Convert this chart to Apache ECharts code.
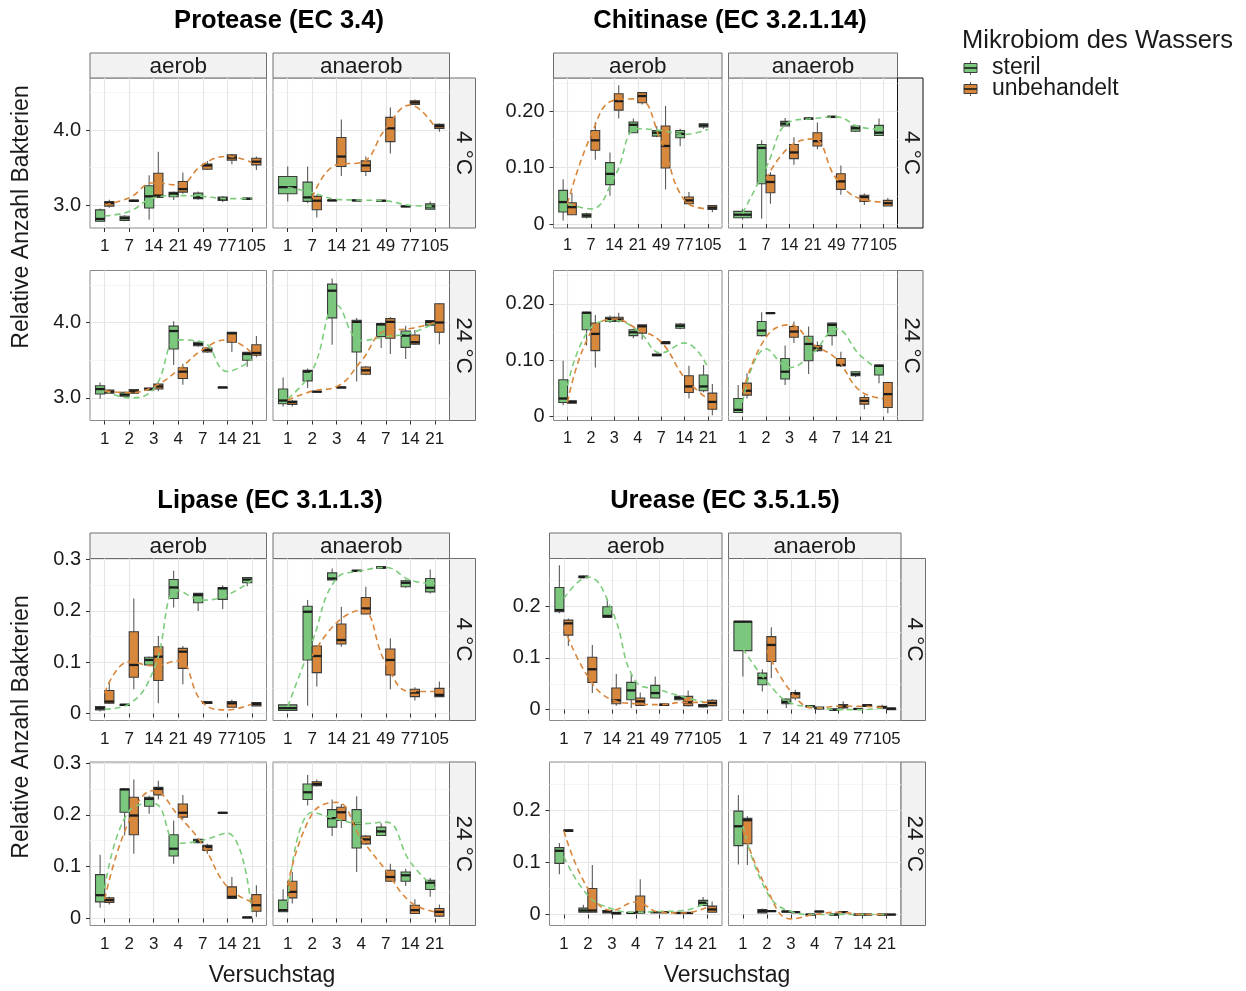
<!DOCTYPE html>
<html>
<head>
<meta charset="utf-8">
<script src="https://cdn.jsdelivr.net/npm/echarts@6/dist/echarts.min.js"></script>
<style>
  html, body { margin: 0; padding: 0; background: #fff; }
  #chart { width: 1246px; height: 991px; }
</style>
</head>
<body>
<div id="chart"></div>
<script>
// ---- Sampling days (tick labels) ----
const days4C = ['1', '7', '14', '21', '49', '77', '105'];
const days24C = ['1', '2', '3', '4', '7', '14', '21'];
const groups = ['steril', 'unbehandelt'];

// ---- Box statistics per day: [min, q1, median, q3, max]; null = no samples ----
// Protease (EC 3.4)
const prAe4St = [[2.78, 2.79, 2.82, 2.94, 2.96], [2.79, 2.80, 2.83, 2.855, 2.87], [2.81, 2.965, 3.12, 3.26, 3.40], [3.07, 3.114, 3.154, 3.172, 3.185], [3.075, 3.088, 3.106, 3.163, 3.185], [3.044, 3.066, 3.088, 3.11, 3.123], [3.08, 3.085, 3.088, 3.095, 3.10]];
const prAe4Un = [[2.97, 2.99, 3.03, 3.05, 3.075], [3.05, 3.055, 3.06, 3.07, 3.075], [3.10, 3.106, 3.13, 3.427, 3.71], [3.154, 3.176, 3.216, 3.317, 3.436], [3.47, 3.48, 3.53, 3.55, 3.59], [3.546, 3.60, 3.634, 3.67, 3.683], [3.47, 3.537, 3.58, 3.625, 3.65]];
const prAn4St = [[3.053, 3.154, 3.242, 3.383, 3.515], [3.03, 3.053, 3.106, 3.308, 3.515], [3.06, 3.063, 3.066, 3.07, 3.073], [3.06, 3.063, 3.066, 3.07, 3.073], [3.055, 3.058, 3.062, 3.066, 3.07], [2.98, 2.983, 2.987, 2.99, 2.995], [2.943, 2.95, 2.987, 3.02, 3.053]];
const prAn4Un = [null, [2.84, 2.943, 3.062, 3.119, 3.14], [3.39, 3.515, 3.648, 3.90, 4.14], [3.39, 3.45, 3.53, 3.59, 3.648], [3.69, 3.846, 4.022, 4.167, 4.30], [4.33, 4.34, 4.366, 4.388, 4.405], [3.978, 4.022, 4.053, 4.075, 4.088]];
const prAe24St = [[2.987, 3.052, 3.117, 3.161, 3.204], [3.009, 3.022, 3.043, 3.074, 3.083], [3.10, 3.104, 3.117, 3.13, 3.135], [3.435, 3.648, 3.887, 3.952, 4.017], [3.68, 3.691, 3.713, 3.739, 3.745], [3.135, 3.137, 3.139, 3.141, 3.143], [3.413, 3.50, 3.583, 3.604, 3.609]];
const prAe24Un = [[3.06, 3.061, 3.083, 3.104, 3.11], [3.052, 3.061, 3.087, 3.109, 3.117], [3.087, 3.117, 3.152, 3.183, 3.20], [3.174, 3.257, 3.348, 3.40, 3.452], [3.60, 3.609, 3.635, 3.661, 3.67], [3.609, 3.739, 3.857, 3.87, 3.878], [3.539, 3.565, 3.596, 3.704, 3.822]];
const prAn24St = [[2.887, 2.922, 2.965, 3.117, 3.27], [3.13, 3.226, 3.348, 3.365, 3.39], [3.704, 4.061, 4.422, 4.509, 4.583], [3.217, 3.609, 4.009, 4.03, 4.061], [3.661, 3.813, 3.974, 3.987, 4.0], [3.517, 3.67, 3.826, 3.887, 3.957], [3.96, 3.965, 4.009, 4.026, 4.03]];
const prAn24Un = [[2.887, 2.913, 2.943, 2.957, 2.975], [3.079, 3.081, 3.083, 3.085, 3.087], [3.135, 3.137, 3.139, 3.141, 3.143], [3.30, 3.313, 3.365, 3.409, 3.422], [3.583, 3.791, 4.009, 4.052, 4.074], [3.70, 3.713, 3.739, 3.835, 3.90], [3.713, 3.87, 4.0, 4.248, 4.257]];
// Chitinase (EC 3.2.1.14)
const chAe4St = [[0.0065, 0.0213, 0.039, 0.0598, 0.0793], [0.010, 0.012, 0.015, 0.018, 0.020], [0.050, 0.070, 0.089, 0.109, 0.127], [0.162, 0.162, 0.176, 0.181, 0.187], [0.154, 0.156, 0.162, 0.166, 0.174], [0.138, 0.153, 0.160, 0.166, 0.169], [0.169, 0.172, 0.175, 0.178, 0.179]];
const chAe4Un = [[0.0166, 0.0166, 0.030, 0.0379, 0.0556], [0.114, 0.131, 0.1485, 0.166, 0.181], [0.187, 0.202, 0.218, 0.231, 0.246], [0.212, 0.215, 0.227, 0.233, 0.234], [0.0615, 0.0994, 0.1385, 0.174, 0.2095], [0.036, 0.036, 0.042, 0.048, 0.057], [0.021, 0.026, 0.029, 0.033, 0.034]];
const chAn4St = [[0.008, 0.0112, 0.0166, 0.0225, 0.027], [0.0095, 0.0716, 0.135, 0.141, 0.1485], [0.174, 0.174, 0.178, 0.182, 0.188], [0.185, 0.186, 0.187, 0.188, 0.189], [0.188, 0.189, 0.190, 0.191, 0.192], [0.163, 0.1645, 0.170, 0.174, 0.175], [0.157, 0.157, 0.162, 0.175, 0.187]];
const chAn4Un = [null, [0.036, 0.0556, 0.0746, 0.0864, 0.092], [0.105, 0.116, 0.127, 0.141, 0.154], [0.1325, 0.1385, 0.147, 0.162, 0.18], [0.052, 0.0615, 0.0757, 0.0893, 0.104], [0.034, 0.040, 0.048, 0.051, 0.054], [0.032, 0.032, 0.037, 0.042, 0.046]];
const chAe24St = [[0.020, 0.0249, 0.032, 0.0653, 0.099], [0.126, 0.154, 0.184, 0.185, 0.186], [0.166, 0.1685, 0.173, 0.176, 0.179], [0.139, 0.1436, 0.1495, 0.154, 0.156], [0.107, 0.108, 0.109, 0.111, 0.112], [0.155, 0.1567, 0.161, 0.164, 0.166], [0.043, 0.0457, 0.0534, 0.0736, 0.0914]];
const chAe24Un = [[0.0237, 0.0237, 0.026, 0.0279, 0.0285], [0.087, 0.117, 0.1466, 0.166, 0.180], [0.167, 0.1685, 0.172, 0.176, 0.184], [0.1365, 0.148, 0.160, 0.1626, 0.163], [0.128, 0.129, 0.1306, 0.133, 0.134], [0.032, 0.0427, 0.0534, 0.0724, 0.090], [0.0024, 0.013, 0.026, 0.0415, 0.0576]];
const chAn24St = [[0.0071, 0.0071, 0.0119, 0.032, 0.0558], [0.142, 0.1436, 0.1525, 0.1685, 0.185], [0.0558, 0.0665, 0.0795, 0.103, 0.1258], [0.0754, 0.099, 0.1288, 0.1424, 0.1596], [0.1258, 0.1436, 0.1626, 0.1656, 0.167], [0.070, 0.0724, 0.075, 0.0795, 0.080], [0.059, 0.0736, 0.090, 0.0914, 0.092]];
const chAn24Un = [[0.032, 0.038, 0.0457, 0.0593, 0.077], [0.182, 0.1828, 0.1834, 0.184, 0.1846], [0.1306, 0.1407, 0.1507, 0.1596, 0.1685], [0.115, 0.117, 0.121, 0.1258, 0.133], [0.088, 0.090, 0.0914, 0.103, 0.115], [0.013, 0.022, 0.0279, 0.0338, 0.038], [0.006, 0.016, 0.0398, 0.0605, 0.0617]];
// Lipase (EC 3.1.1.3)
const liAe4St = [[0.004, 0.0071, 0.0104, 0.0136, 0.015], [0.015, 0.0155, 0.0169, 0.018, 0.019], [0.0946, 0.0946, 0.1043, 0.1095, 0.111], [0.2067, 0.2242, 0.2456, 0.261, 0.278], [0.1996, 0.2158, 0.2307, 0.234, 0.235], [0.2035, 0.2223, 0.2437, 0.2456, 0.250], [0.248, 0.2547, 0.261, 0.265, 0.266]];
const liAe4Un = [[0.019, 0.020, 0.0233, 0.0447, 0.0622], [0.0473, 0.0706, 0.0946, 0.1594, 0.224], [0.020, 0.0642, 0.1108, 0.130, 0.151], [0.057, 0.088, 0.1205, 0.127, 0.1316], [0.019, 0.0195, 0.0214, 0.023, 0.0235], [0.0123, 0.0123, 0.020, 0.0233, 0.0266], [0.0149, 0.0149, 0.0188, 0.0214, 0.022]];
const liAn4St = [[0.0058, 0.0058, 0.0104, 0.0169, 0.0169], [0.0149, 0.1043, 0.1983, 0.209, 0.221], [0.260, 0.260, 0.263, 0.274, 0.2826], [0.276, 0.277, 0.278, 0.279, 0.280], [0.2825, 0.283, 0.2845, 0.286, 0.287], [0.245, 0.247, 0.2547, 0.2586, 0.261], [0.234, 0.237, 0.245, 0.263, 0.2806]];
const liAn4Un = [null, [0.0525, 0.0797, 0.112, 0.1316, 0.133], [0.130, 0.1354, 0.1432, 0.1743, 0.208], [0.1938, 0.1938, 0.2048, 0.226, 0.247], [0.0473, 0.0752, 0.1043, 0.1257, 0.1465], [0.0253, 0.033, 0.0408, 0.0473, 0.051], [0.033, 0.033, 0.0363, 0.049, 0.0622]];
const liAe24St = [[0.0205, 0.032, 0.0449, 0.0846, 0.123], [0.160, 0.205, 0.249, 0.25, 0.251], [0.202, 0.2167, 0.2308, 0.234, 0.237], [0.1058, 0.1205, 0.1346, 0.1615, 0.189], [0.145, 0.146, 0.149, 0.1526, 0.155], [0.203, 0.2035, 0.204, 0.2045, 0.205], [0.001, 0.0015, 0.002, 0.0025, 0.003]];
const liAe24Un = [[0.027, 0.0308, 0.0353, 0.0397, 0.0417], [0.125, 0.1615, 0.1987, 0.234, 0.268], [0.2295, 0.2385, 0.25, 0.253, 0.266], [0.192, 0.1955, 0.204, 0.221, 0.2385], [0.125, 0.1314, 0.138, 0.141, 0.144], [0.0385, 0.0385, 0.0417, 0.061, 0.080], [0.003, 0.014, 0.0256, 0.046, 0.064]];
const liAn24St = [[0.0128, 0.0128, 0.016, 0.0353, 0.0564], [0.218, 0.2295, 0.2436, 0.2596, 0.277], [0.159, 0.1763, 0.1936, 0.210, 0.2295], [0.0897, 0.136, 0.1827, 0.210, 0.236], [0.159, 0.160, 0.168, 0.1763, 0.184], [0.0628, 0.0718, 0.0833, 0.0897, 0.096], [0.0417, 0.0558, 0.069, 0.0737, 0.078]];
const liAn24Un = [[0.0288, 0.0397, 0.0513, 0.0718, 0.0897], [0.2545, 0.2564, 0.2596, 0.264, 0.268], [0.1744, 0.189, 0.205, 0.2147, 0.221], [0.142, 0.144, 0.1526, 0.159, 0.161], [0.0705, 0.0718, 0.080, 0.093, 0.1058], [0.0096, 0.0096, 0.016, 0.0256, 0.037], [0.003, 0.0045, 0.0128, 0.0192, 0.027]];
// Urease (EC 3.5.1.5)
const urAe4St = [[0.186, 0.189, 0.1923, 0.236, 0.279], [0.254, 0.255, 0.2564, 0.258, 0.259], [0.178, 0.178, 0.181, 0.1987, 0.2147], [0.003, 0.0192, 0.0372, 0.0526, 0.0673], [0.0224, 0.0224, 0.032, 0.0468, 0.064], [0.0182, 0.0192, 0.0224, 0.0256, 0.027], [0.004, 0.0051, 0.0077, 0.0096, 0.011]];
const urAe4Un = [[0.123, 0.144, 0.1667, 0.173, 0.176], [0.032, 0.0526, 0.078, 0.1013, 0.125], [0.0077, 0.0115, 0.018, 0.0417, 0.069], [0.0083, 0.0083, 0.016, 0.0224, 0.033], [0.0077, 0.0083, 0.0096, 0.011, 0.0115], [0.0064, 0.0077, 0.014, 0.0256, 0.037], [0.0064, 0.0077, 0.0128, 0.018, 0.0205]];
const urAn4St = [[0.064, 0.114, 0.170, 0.170, 0.170], [0.035, 0.048, 0.061, 0.0705, 0.078], [0.003, 0.0115, 0.0147, 0.0205, 0.0215], [0.005, 0.0058, 0.0064, 0.007, 0.0075], [-0.0013, -0.0013, 0.0, 0.0013, 0.0013], [0.0005, 0.0008, 0.0013, 0.0018, 0.002], [0.003, 0.003, 0.0045, 0.0064, 0.0096]];
const urAn4Un = [null, [0.061, 0.093, 0.125, 0.141, 0.159], [0.018, 0.0224, 0.0308, 0.033, 0.0385], [0.0013, 0.0013, 0.003, 0.005, 0.0055], [0.0013, 0.0032, 0.0064, 0.0096, 0.016], [0.0055, 0.006, 0.0077, 0.0096, 0.0105], [0.0, 0.0, 0.0019, 0.003, 0.0035]];
const urAe24St = [[0.077, 0.098, 0.122, 0.128, 0.137], [0.0045, 0.0045, 0.0077, 0.0123, 0.0187], [0.0032, 0.0032, 0.0058, 0.0077, 0.0097], [0.0025, 0.0028, 0.0032, 0.0036, 0.004], [0.004, 0.0042, 0.0045, 0.0048, 0.005], [0.0025, 0.0028, 0.003, 0.0033, 0.0036], [0.0174, 0.0174, 0.0226, 0.0271, 0.0335]];
const urAe24Un = [[0.158, 0.159, 0.1606, 0.162, 0.163], [0.0045, 0.0045, 0.0077, 0.0497, 0.0948], [0.0013, 0.0013, 0.0026, 0.0045, 0.005], [0.0032, 0.0032, 0.0045, 0.0355, 0.0677], [0.004, 0.0042, 0.0045, 0.0048, 0.005], [0.0025, 0.0028, 0.003, 0.0033, 0.0036], [0.0045, 0.0045, 0.0097, 0.0161, 0.025]];
const urAn24St = [[0.096, 0.132, 0.169, 0.198, 0.229], [0.0032, 0.0032, 0.0065, 0.0097, 0.0116], [0.004, 0.0048, 0.0058, 0.0065, 0.007], [-0.0005, -0.0003, 0.0, 0.0003, 0.0005], [-0.0005, -0.0003, 0.0, 0.0003, 0.0005], [-0.0005, -0.0003, 0.0, 0.0003, 0.0005], [-0.0005, -0.0003, 0.0, 0.0003, 0.0005]];
const urAn24Un = [[0.0948, 0.1355, 0.1806, 0.184, 0.188], [0.0055, 0.006, 0.0065, 0.007, 0.0075], [0.0035, 0.004, 0.0045, 0.005, 0.0055], [0.005, 0.0054, 0.0058, 0.0062, 0.0066], [0.0035, 0.004, 0.0045, 0.005, 0.0055], [-0.0005, -0.0003, 0.0, 0.0003, 0.0005], [-0.0005, -0.0003, 0.0, 0.0003, 0.0005]];

// ---- Trend lines (group means per day) ----
const prAe4StLine = [2.86, 2.92, 3.10, 3.13, 3.12, 3.09, 3.09];
const prAe4UnLine = [3.01, 3.10, 3.30, 3.27, 3.54, 3.65, 3.57];
const prAn4StLine = [3.24, 3.17, 3.08, 3.07, 3.06, 3.00, 2.99];
const prAn4UnLine = [null, 3.10, 3.54, 3.57, 4.02, 4.33, 4.04];
const prAe24StLine = [3.10, 3.00, 3.12, 3.77, 3.74, 3.35, 3.51];
const prAe24UnLine = [3.09, 3.07, 3.15, 3.37, 3.64, 3.77, 3.60];
const prAn24StLine = [2.99, 3.36, 4.23, 3.76, 3.81, 3.86, 3.99];
const prAn24UnLine = [2.97, 3.09, 3.15, 3.49, 3.89, 3.92, 4.00];
const chAe4StLine = [0.036, 0.027, 0.083, 0.169, 0.166, 0.159, 0.168];
const chAe4UnLine = [0.036, 0.157, 0.2195, 0.222, 0.146, 0.042, 0.027];
const chAn4StLine = [0.019, 0.100, 0.181, 0.187, 0.190, 0.172, 0.168];
const chAn4UnLine = [null, 0.080, 0.137, 0.151, 0.080, 0.045, 0.039];
const chAe24StLine = [0.055, 0.158, 0.170, 0.1525, 0.113, 0.1306, 0.087];
const chAe24UnLine = [0.025, 0.150, 0.173, 0.155, 0.132, 0.069, 0.031];
const chAn24StLine = [0.025, 0.120, 0.087, 0.113, 0.155, 0.109, 0.077];
const chAn24UnLine = [0.043, 0.1407, 0.1626, 0.1288, 0.102, 0.0457, 0.032];
const liAe4StLine = [0.0084, 0.0188, 0.085, 0.240, 0.221, 0.231, 0.260];
const liAe4UnLine = [0.0395, 0.101, 0.093, 0.103, 0.0214, 0.0071, 0.0188];
const liAn4StLine = [0.0136, 0.140, 0.263, 0.278, 0.2845, 0.260, 0.2534];
const liAn4UnLine = [null, 0.112, 0.177, 0.2015, 0.098, 0.0428, 0.0428];
const liAe24StLine = [0.058, 0.208, 0.222, 0.145, 0.151, 0.165, 0.014];
const liAe24UnLine = [0.037, 0.189, 0.247, 0.199, 0.142, 0.061, 0.032];
const liAn24StLine = [0.032, 0.205, 0.192, 0.183, 0.186, 0.109, 0.058];
const liAn24UnLine = [0.064, 0.202, 0.224, 0.154, 0.093, 0.032, 0.0128];
const urAe4StLine = [0.2147, 0.2564, 0.1923, 0.0545, 0.0385, 0.0244, 0.0128];
const urAe4UnLine = [0.160, 0.064, 0.0192, 0.0115, 0.0096, 0.014, 0.014];
const urAn4StLine = [0.118, 0.0545, 0.0128, 0.005, 0.0, 0.0, 0.005];
const urAn4UnLine = [null, 0.115, 0.035, 0.003, 0.0064, 0.0064, 0.003];
const urAe24StLine = [0.111, 0.0368, 0.011, 0.0045, 0.0058, 0.0077, 0.0239];
const urAe24UnLine = [0.160, 0.0497, 0.0077, 0.024, 0.0045, 0.003, 0.0142];
const urAn24StLine = [0.169, 0.043, 0.0058, 0.0, 0.0, 0.0, 0.0];
const urAn24UnLine = [0.1626, 0.0497, -0.0084, 0.0, 0.0045, 0.0, 0.0];

// ---- Styling ----
const FONT = '"Liberation Sans", Arial, Helvetica, sans-serif';
const FILL = { steril: '#7bc77e', unbehandelt: '#d8883d' };
const DASH = { steril: '#7dcd7d', unbehandelt: '#d9873c' };
const POS = [1, 2, 3, 4, 5, 6, 7];

// ---- Facet layout: 4 enzyme blocks, each 2 rows (4 °C / 24 °C) x 2 cols (aerob / anaerob) ----
const blocks = [
  { title: 'Protease (EC 3.4)', tx: 279, ty: 21,
    cols: [[90, 176.5], [273, 176.5]], stripTop: 53, rows: [[78, 150], [270.5, 150]],
    stripX: 449.5, stripW: 26, stripStroke: ['#6e6e6e', '#6e6e6e'], xFont: 17,
    yMin: 2.70, yMax: 4.69, majors: [3, 4], minors: [3.5, 4.5], digits: 1,
    panels: [[[prAe4St, prAe4Un, prAe4StLine, prAe4UnLine], [prAn4St, prAn4Un, prAn4StLine, prAn4UnLine]],
             [[prAe24St, prAe24Un, prAe24StLine, prAe24UnLine], [prAn24St, prAn24Un, prAn24StLine, prAn24UnLine]]] },
  { title: 'Chitinase (EC 3.2.1.14)', tx: 730, ty: 21,
    cols: [[553.5, 168.5], [728.5, 169]], stripTop: 53, rows: [[78, 150], [270.5, 150]],
    stripX: 897.5, stripW: 25.5, stripStroke: ['#111', '#6e6e6e'], xFont: 16.2,
    yMin: -0.007, yMax: 0.259, majors: [0, 0.1, 0.2], minors: [0.05, 0.15, 0.25], digits: 2,
    panels: [[[chAe4St, chAe4Un, chAe4StLine, chAe4UnLine], [chAn4St, chAn4Un, chAn4StLine, chAn4UnLine]],
             [[chAe24St, chAe24Un, chAe24StLine, chAe24UnLine], [chAn24St, chAn24Un, chAn24StLine, chAn24UnLine]]] },
  { title: 'Lipase (EC 3.1.1.3)', tx: 270, ty: 501,
    cols: [[90, 176.5], [273, 176.5]], stripTop: 533, rows: [[558.5, 162], [762, 163.5]],
    stripX: 449.5, stripW: 26, stripStroke: ['#6e6e6e', '#6e6e6e'], xFont: 17,
    yMin: -0.0136, yMax: 0.302, majors: [0, 0.1, 0.2, 0.3], minors: [0.05, 0.15, 0.25], digits: 1,
    panels: [[[liAe4St, liAe4Un, liAe4StLine, liAe4UnLine], [liAn4St, liAn4Un, liAn4StLine, liAn4UnLine]],
             [[liAe24St, liAe24Un, liAe24StLine, liAe24UnLine], [liAn24St, liAn24Un, liAn24StLine, liAn24UnLine]]] },
  { title: 'Urease (EC 3.5.1.5)', tx: 725, ty: 501,
    cols: [[549.5, 172.5], [728.5, 172.5]], stripTop: 533, rows: [[558.5, 162], [762, 163.5]],
    stripX: 901, stripW: 24.5, stripStroke: ['#6e6e6e', '#6e6e6e'], xFont: 16.8,
    yMin: -0.021, yMax: 0.292, majors: [0, 0.1, 0.2], minors: [0.05, 0.15, 0.25], digits: 1,
    panels: [[[urAe4St, urAe4Un, urAe4StLine, urAe4UnLine], [urAn4St, urAn4Un, urAn4StLine, urAn4UnLine]],
             [[urAe24St, urAe24Un, urAe24StLine, urAe24UnLine], [urAn24St, urAn24Un, urAn24StLine, urAn24UnLine]]] }
];
const colNames = ['aerob', 'anaerob'];
const rowNames = ['4 °C', '24 °C'];

// Box glyph: whiskers, box from q1 to q3, bold median
function boxRenderer(fill) {
  return function (params, api) {
    const x = api.value(0) + api.value(6);
    const hw = api.value(7) / 2;
    const pq3 = api.coord([x - hw, api.value(4)]);
    const pq1 = api.coord([x + hw, api.value(2)]);
    const xc = api.coord([x, api.value(3)])[0];
    const yMin = api.coord([x, api.value(1)])[1];
    const yMax = api.coord([x, api.value(5)])[1];
    const yMed = api.coord([x, api.value(3)])[1];
    const whisker = { stroke: '#5a5a5a', lineWidth: 1.1 };
    return {
      type: 'group',
      children: [
        { type: 'line', shape: { x1: xc, y1: yMax, x2: xc, y2: pq3[1] }, style: whisker },
        { type: 'line', shape: { x1: xc, y1: pq1[1], x2: xc, y2: yMin }, style: whisker },
        { type: 'rect', shape: { x: pq3[0], y: pq3[1], width: pq1[0] - pq3[0], height: Math.max(pq1[1] - pq3[1], 0.6) },
          style: { fill: fill, stroke: '#3c3c3c', lineWidth: 1.1 } },
        { type: 'line', shape: { x1: pq3[0], y1: yMed, x2: pq1[0], y2: yMed }, style: { stroke: '#1c1c1c', lineWidth: 2.3 } }
      ]
    };
  };
}

// Dodged box items: shift left/right when both groups have data on that day
function boxItems(vals, other, side) {
  const out = [];
  vals.forEach((v, k) => {
    if (!v) return;
    const paired = !!other[k];
    out.push([k + 1, v[0], v[1], v[2], v[3], v[4], paired ? side * 0.1875 : 0, paired ? 0.375 : 0.75]);
  });
  return out;
}
function lineItems(vals) {
  const out = [];
  vals.forEach((v, k) => { if (v !== null) out.push([k + 1, v]); });
  return out;
}

const grids = [], xAxes = [], yAxes = [], series = [], graphics = [];
const textStyle = (size, extra) => Object.assign({ fontSize: size, fontFamily: FONT, fill: '#1a1a1a' }, extra || {});
function addText(x, y, text, size, extra, rotation) {
  graphics.push({
    type: 'text', x: x, y: y, rotation: rotation || 0, silent: true,
    style: Object.assign(textStyle(size, extra), { text: text, align: 'center', verticalAlign: 'middle', textAlign: 'center', textVerticalAlign: 'middle' })
  });
}
function addStrip(x, y, w, h, stroke) {
  graphics.push({ type: 'rect', silent: true, shape: { x: x, y: y, width: w, height: h },
    style: { fill: '#f2f2f2', stroke: stroke || '#6e6e6e', lineWidth: 1 } });
}

let gi = 0;
blocks.forEach(b => {
  addText(b.tx, b.ty, b.title, 25.5, { fontWeight: 'bold', fill: '#000' });
  // column strips
  b.cols.forEach(([left, w], c) => {
    addStrip(left, b.stripTop, w, b.rows[0][0] - b.stripTop);
    addText(left + w / 2, (b.stripTop + b.rows[0][0]) / 2 + 1, colNames[c], 22.5);
  });
  b.rows.forEach(([top, h], r) => {
    const days = r === 0 ? days4C : days24C;
    addStrip(b.stripX, top, b.stripW, h, b.stripStroke[r]);
    addText(b.stripX + b.stripW / 2 + 1, top + h / 2, rowNames[r], 22.5, null, -Math.PI / 2);
    b.cols.forEach(([left, w], c) => {
      const [st, un, stLine, unLine] = b.panels[r][c];
      grids.push({ left: left, top: top, width: w, height: h, show: true, backgroundColor: '#fff',
        borderColor: '#8a8a8a', borderWidth: 1 });
      xAxes.push({
        gridIndex: gi, type: 'value', min: 0.4, max: 7.6,
        axisLine: { show: false },
        axisTick: { show: true, customValues: POS, length: 4, lineStyle: { color: '#333', width: 1 } },
        axisLabel: { customValues: POS, formatter: v => days[Math.round(v) - 1], fontSize: b.xFont, color: '#1a1a1a',
          fontFamily: FONT, margin: 10, hideOverlap: false },
        splitLine: { show: true, lineStyle: { color: '#e6e6e6', width: 1.2 } }
      });
      const yMain = yAxes.length;
      yAxes.push({
        gridIndex: gi, type: 'value', min: b.yMin, max: b.yMax,
        axisLine: { show: false },
        axisTick: { show: c === 0, customValues: b.majors, length: 4, lineStyle: { color: '#333', width: 1 } },
        axisLabel: { show: c === 0, customValues: b.majors, margin: 9, fontSize: 20, color: '#1a1a1a', fontFamily: FONT,
          showMinLabel: true, showMaxLabel: true,
          formatter: v => (Math.abs(v) < 1e-9 ? '0' : v.toFixed(b.digits)) },
        splitLine: { show: true, lineStyle: { color: '#e6e6e6', width: 1.2 } }
      });
      yAxes.push({
        gridIndex: gi, type: 'value', min: b.yMin, max: b.yMax, position: 'left',
        axisLine: { show: false },
        axisTick: { show: false, customValues: b.minors },
        axisLabel: { show: false },
        splitLine: { show: true, lineStyle: { color: '#f2f2f2', width: 0.8 } }
      });
      [[st, un, -1, 'steril'], [un, st, 1, 'unbehandelt']].forEach(([vals, other, side, name]) => {
        series.push({
          type: 'custom', name: name, xAxisIndex: gi, yAxisIndex: yMain, silent: true, z: 2,
          renderItem: boxRenderer(FILL[name]), encode: { x: 0, y: 3 },
          data: boxItems(vals, other, side)
        });
      });
      [['steril', stLine], ['unbehandelt', unLine]].forEach(([name, line]) => {
        series.push({
          type: 'line', name: name + ' Mittel', xAxisIndex: gi, yAxisIndex: yMain, silent: true, z: 3,
          smooth: 0.45, symbol: 'none', data: lineItems(line),
          lineStyle: { type: [6, 4], width: 1.6, color: DASH[name] }
        });
      });
      gi++;
    });
  });
});

// Axis titles
addText(22, 217, 'Relative Anzahl Bakterien', 23, null, Math.PI / 2);
addText(22, 727, 'Relative Anzahl Bakterien', 23, null, Math.PI / 2);
addText(272, 976, 'Versuchstag', 23);
addText(727, 976, 'Versuchstag', 23);

// Legend
graphics.push({ type: 'text', x: 962, y: 41, silent: true,
  style: Object.assign(textStyle(25.5), { text: 'Mikrobiom des Wassers', align: 'left', verticalAlign: 'middle', textAlign: 'left', textVerticalAlign: 'middle' }) });
groups.forEach((g, i) => {
  const cy = 68 + i * 21;
  graphics.push({ type: 'line', silent: true, shape: { x1: 970.5, y1: cy - 7, x2: 970.5, y2: cy + 7 }, style: { stroke: '#5a5a5a', lineWidth: 1 } });
  graphics.push({ type: 'rect', silent: true, shape: { x: 964, y: cy - 4.5, width: 13, height: 9 }, style: { fill: FILL[g], stroke: '#3c3c3c', lineWidth: 1 } });
  graphics.push({ type: 'line', silent: true, shape: { x1: 964, y1: cy, x2: 977, y2: cy }, style: { stroke: '#1c1c1c', lineWidth: 1.6 } });
  graphics.push({ type: 'text', x: 992, y: cy, silent: true,
    style: Object.assign(textStyle(23), { text: g, align: 'left', verticalAlign: 'middle', textAlign: 'left', textVerticalAlign: 'middle' }) });
});

const chart = echarts.init(document.getElementById('chart'), null, { renderer: 'canvas' });
chart.setOption({
  animation: false,
  backgroundColor: '#fff',
  grid: grids,
  xAxis: xAxes,
  yAxis: yAxes,
  series: series,
  graphic: { elements: graphics }
});
</script>
</body>
</html>
